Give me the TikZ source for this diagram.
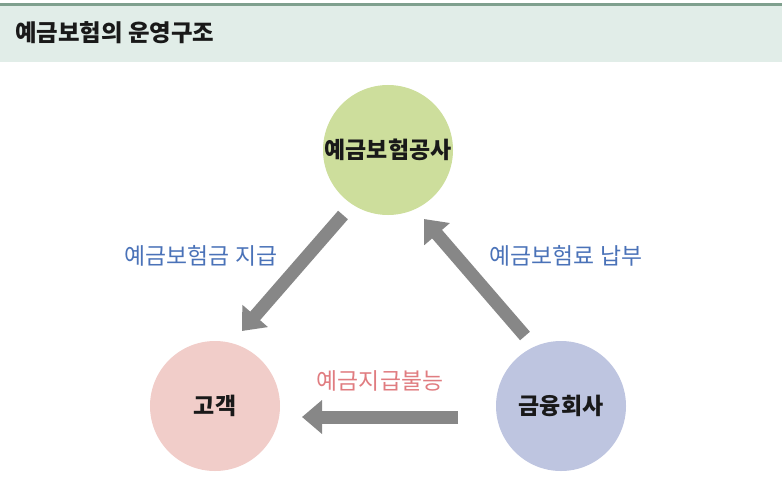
\documentclass[tikz,border=0pt]{standalone}
\usepackage{fontspec}
\setmainfont{Noto Sans CJK KR}
\usetikzlibrary{arrows.meta}
\definecolor{bandline}{HTML}{7FA08E}
\definecolor{bandfill}{HTML}{E1EDE8}
\definecolor{kdic}{HTML}{CDDE9C}
\definecolor{client}{HTML}{F1CDC9}
\definecolor{bank}{HTML}{BEC5E0}
\definecolor{flowgray}{HTML}{878787}
\definecolor{paylabel}{HTML}{4A72B8}
\definecolor{faillabel}{HTML}{E07C80}
\tikzset{
  party/.style={circle, minimum size=3.9cm, inner sep=0pt, font=\fontsize{19.6}{22}\selectfont\bfseries, text=black!90},
  flow/.style={line width=0.39cm, draw=flowgray, -{Triangle[length=0.6cm,width=0.98cm]}},
  flowlabel/.style={font=\fontsize{19.5}{22}\selectfont}
}
\begin{document}
\begin{tikzpicture}[x=0.03cm,y=-0.03cm]
\useasboundingbox (0,0) rectangle (782,500);
% header band
\fill[bandfill] (0,5) rectangle (782,62);
\fill[bandline] (0,3) rectangle (782,6);
\node[anchor=west, font=\fontsize{20}{23}\selectfont\bfseries, text=black!90] (title) at (11,33) {예금보험의 운영구조};

% parties
\node[party, fill=kdic] (KDIC) at (388,150) {예금보험공사};
\node[party, fill=client] (CL) at (215,406) {고객};
\node[party, fill=bank] (FI) at (561,406) {금융회사};

% arrow ends
\coordinate (P1) at (343,215);
\coordinate (P2) at (242,331);
\coordinate (Q1) at (525,336);
\coordinate (Q2) at (424,219);
\coordinate (R1) at (458,417);
\coordinate (R2) at (302,417);

\draw[flow] (P1) -- (P2);
\draw[flow] (Q1) -- (Q2);
\draw[flow] (R1) -- (R2);

% labels
\node[flowlabel, text=paylabel] (payout) at (201,256) {예금보험금 지급};
\node[flowlabel, text=paylabel] (premium) at (566,256) {예금보험료 납부};
\node[flowlabel, text=faillabel] (default) at (380,381) {예금지급불능};
\end{tikzpicture}
\end{document}
